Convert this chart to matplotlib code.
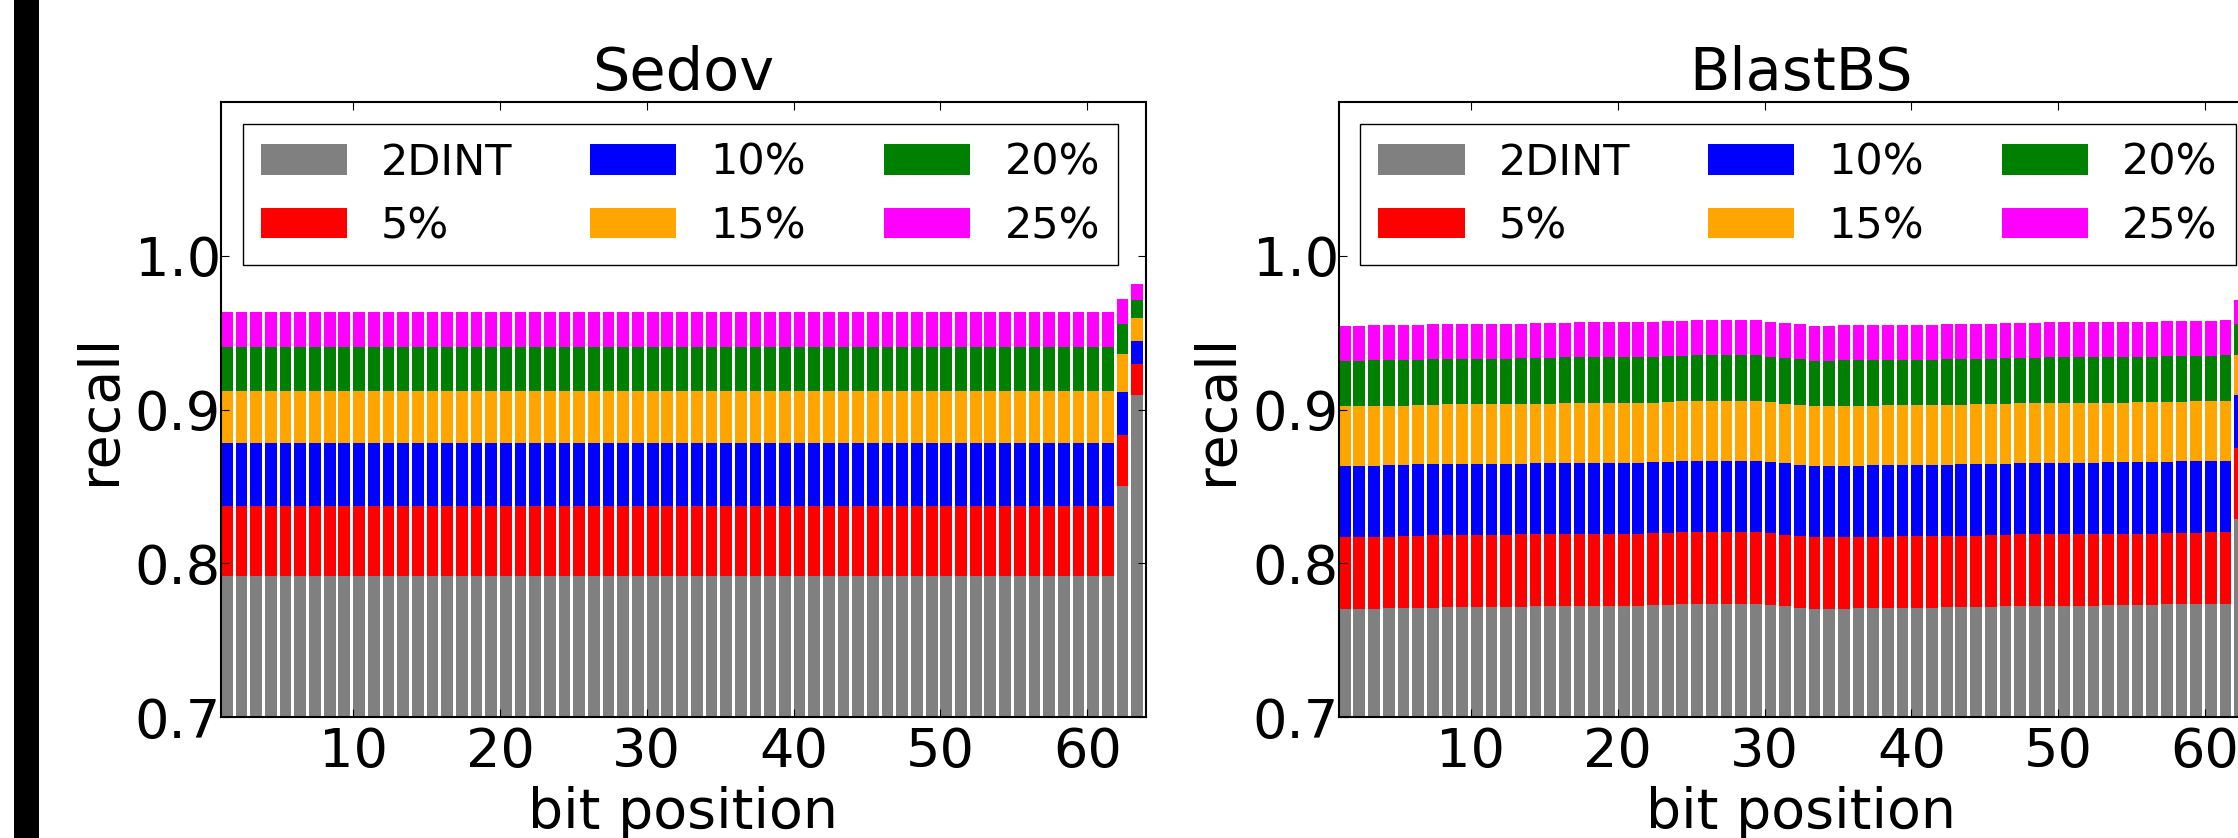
import matplotlib.pyplot as plt
from matplotlib.patches import Rectangle

# bit positions 1..63
bits = list(range(1, 64))
labels = ["2DINT", "5%", "10%", "15%", "20%", "25%"]
colors = ["gray", "red", "blue", "orange", "green", "magenta"]

# Sedov: recall reached by each method (cumulative levels)
sedov_2dint = [0.7916] * 61 + [0.8504, 0.9093]
sedov_5 = [0.8374] * 61 + [0.8835, 0.9296]
sedov_10 = [0.8782] * 61 + [0.9114, 0.9444]
sedov_15 = [0.9119] * 61 + [0.9360, 0.9595]
sedov_20 = [0.9406] * 61 + [0.9554, 0.9711]
sedov_25 = [0.9633] * 61 + [0.9717, 0.9816]

# BlastBS
blast_2dint = ([0.7704] * 3 + [0.7710] * 4 + [0.7717] * 6 + [0.7723] * 8 + [0.7730] * 2
               + [0.7736] * 6 + [0.7730, 0.7723, 0.7710] + [0.7704] * 3 + [0.7710] * 6
               + [0.7717] * 4 + [0.7723] * 7 + [0.7730] * 4 + [0.7736] * 5 + [0.8289, 0.8400])
blast_5 = ([0.8172] * 4 + [0.8178] * 2 + [0.8185] * 6 + [0.8191] * 9 + [0.8198] * 2
           + [0.8204] * 6 + [0.8198, 0.8185, 0.8178] + [0.8172] * 6 + [0.8178] * 6
           + [0.8185] * 2 + [0.8191] * 10 + [0.8198] * 3 + [0.8204] * 2 + [0.8750, 0.8850])
blast_10 = ([0.8633] * 3 + [0.8639] * 2 + [0.8646] * 8 + [0.8652] * 8 + [0.8659] * 2
            + [0.8665] * 6 + [0.8659, 0.8652, 0.8639] + [0.8633] * 4 + [0.8639] * 6
            + [0.8646] * 4 + [0.8652] * 6 + [0.8659] * 5 + [0.8665] * 4 + [0.9094, 0.9200])
blast_15 = ([0.9023] * 5 + [0.9029] * 2 + [0.9036] * 8 + [0.9042] * 7 + [0.9049]
            + [0.9055] * 6 + [0.9049, 0.9036, 0.9029] + [0.9023] * 5 + [0.9029] * 6
            + [0.9036] * 3 + [0.9042] * 8 + [0.9049] * 4 + [0.9055] * 3 + [0.9354, 0.9450])
blast_20 = ([0.9315] * 2 + [0.9322] * 4 + [0.9328] * 6 + [0.9335] * 3 + [0.9341] * 7
            + [0.9348] * 2 + [0.9354] * 5 + [0.9341, 0.9335, 0.9328] + [0.9315] * 2
            + [0.9322] * 7 + [0.9328] * 4 + [0.9335] * 3 + [0.9341] * 8 + [0.9348] * 4
            + [0.9354] + [0.9560, 0.9620])
blast_25 = ([0.9545] * 2 + [0.9551] * 4 + [0.9558] * 7 + [0.9564] * 3 + [0.9571] * 6
            + [0.9577] * 2 + [0.9584] * 5 + [0.9571, 0.9564, 0.9558] + [0.9545] * 2
            + [0.9551] * 7 + [0.9558] * 4 + [0.9564] * 3 + [0.9571] * 8 + [0.9577] * 4
            + [0.9584] + [0.9712, 0.9780])

sedov = [sedov_2dint, sedov_5, sedov_10, sedov_15, sedov_20, sedov_25]
blast = [blast_2dint, blast_5, blast_10, blast_15, blast_20, blast_25]

plt.rcParams['xtick.direction'] = 'in'
plt.rcParams['ytick.direction'] = 'in'
plt.rcParams['xtick.top'] = True
plt.rcParams['ytick.right'] = True

W, H = 2238, 838
fig = plt.figure(figsize=(W / 100, H / 100), dpi=100)
fig.add_artist(Rectangle((14 / W, 0), 25 / W, 1, transform=fig.transFigure,
                         facecolor="black", edgecolor="none"))

ax1 = fig.add_axes([221 / W, 120.7 / H, 925 / W, 615.3 / H])
ax2 = fig.add_axes([1338.8 / W, 120.7 / H, 925 / W, 615.3 / H])

for ax, data, name in [(ax1, sedov, "Sedov"), (ax2, blast, "BlastBS")]:
    prev = [0] * len(bits)
    for levels, lab, c in zip(data, labels, colors):
        heights = [a - b for a, b in zip(levels, prev)]
        ax.bar(bits, heights, width=0.8, bottom=prev, align="edge", color=c,
               edgecolor="none", linewidth=0, label=lab)
        prev = levels
    ax.set_xlim(1, 64)
    ax.set_ylim(0.7, 1.1)
    ax.set_xticks([10, 20, 30, 40, 50, 60])
    ax.set_yticks([0.7, 0.8, 0.9, 1.0])
    ax.set_yticklabels(["0.7", "0.8", "0.9", "1.0"])
    ax.tick_params(axis="both", labelsize=39, length=5.5, width=0.8)
    ax.tick_params(axis="x", pad=6)
    ax.tick_params(axis="y", pad=0)
    for s in ax.spines.values():
        s.set_linewidth(1.5)
    ax.set_title(name, fontsize=42.5, pad=6.7)
    ax.set_xlabel("bit position", fontsize=40, labelpad=6)
    ax.set_ylabel("recall", fontsize=40, labelpad=6)
    leg = ax.legend(loc="upper left", ncol=3, fontsize=31, fancybox=False,
                    framealpha=1, edgecolor="black", borderpad=0.42,
                    labelspacing=0.5, handlelength=2.0, handleheight=0.7,
                    handletextpad=0.8, columnspacing=1.8, borderaxespad=0.5)
    leg.get_frame().set_linewidth(1.0)

plt.savefig("out.png", dpi=100)
